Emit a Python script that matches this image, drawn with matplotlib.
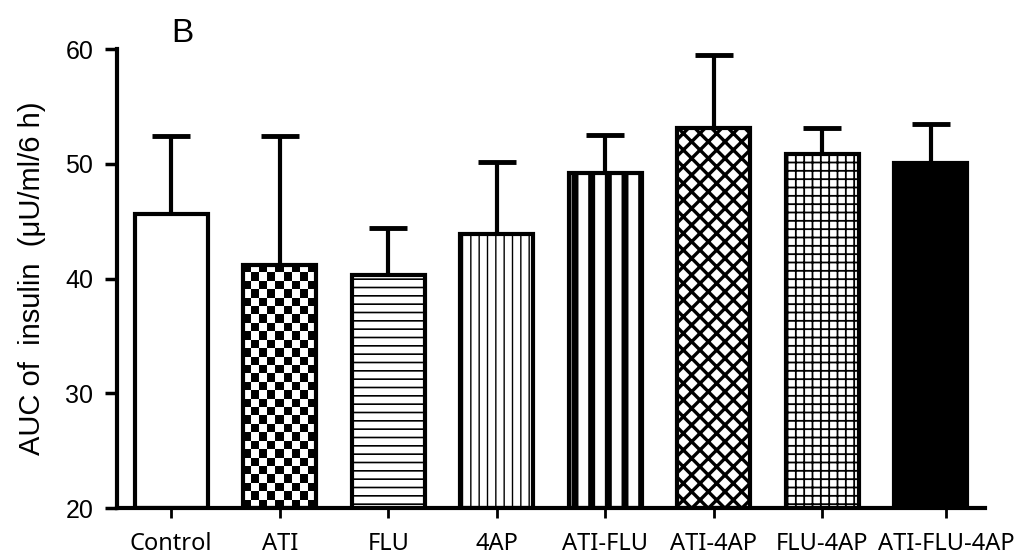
import numpy as np
import matplotlib
matplotlib.use('Agg')
import matplotlib.pyplot as plt

groups = ['Control', 'ATI', 'FLU', '4AP', 'ATI-FLU', 'ATI-4AP', 'FLU-4AP', 'ATI-FLU-4AP']
auc_mean = [45.6, 41.2, 40.3, 43.9, 49.2, 53.1, 50.9, 50.1]
auc_sem = [6.8, 11.2, 4.1, 6.3, 3.3, 6.4, 2.2, 3.4]

# hatch, hatch line width for each bar ('check' is drawn separately)
hatches = ['', 'check', '--', '||', '|', 'xx', '++', '']
hatch_lw = [1, 1, 1.2, 1.0, 5.0, 2.4, 1.3, 1]
faces = ['white', 'none'] + ['white'] * 5 + ['black']

plt.rcParams['font.family'] = ['Liberation Sans', 'DejaVu Sans']

fig = plt.figure(figsize=(10.2, 5.59), dpi=100)
ax = fig.add_axes([0.1147, 0.091, 0.851, 0.821])

x = np.arange(len(groups))
bars = []
for i in range(len(groups)):
    plt.rcParams['hatch.linewidth'] = hatch_lw[i]
    h = hatches[i] if hatches[i] != 'check' else ''
    b = ax.bar(x[i], auc_mean[i] - 20, bottom=20, width=0.67, color=faces[i],
               edgecolor='black', linewidth=3, hatch=h, zorder=2)[0]
    if hasattr(b, 'set_hatch_linewidth'):
        b.set_hatch_linewidth(hatch_lw[i])
    bars.append(b)

ax.errorbar(x, auc_mean, yerr=[np.zeros(len(x)), auc_sem], fmt='none',
            ecolor='black', elinewidth=3, capsize=14, capthick=3.5, zorder=1)

ax.set_xlim(-0.5, 7.5)
ax.set_ylim(20, 60)
ax.set_yticks([20, 30, 40, 50, 60])

# checkerboard fill for ATI
fig.canvas.draw()
cb = bars[1]
x0, x1 = cb.get_x(), cb.get_x() + cb.get_width()
y0, y1 = cb.get_y(), cb.get_y() + cb.get_height()
p0 = ax.transData.transform((x0, y0))
p1 = ax.transData.transform((x1, y1))
sq = 8.3
nc = int(round((p1[0] - p0[0]) / sq))
nr = int(round((p1[1] - p0[1]) / sq))
board = (np.add.outer(np.arange(nr), np.arange(nc)) % 2).astype(float)
img = ax.imshow(board, cmap='gray', extent=(x0, x1, y0, y1), aspect='auto',
                interpolation='nearest', zorder=1.9, origin='lower')
img.set_clip_path(cb)
ax.set_xlim(-0.5, 7.5)
ax.set_ylim(20, 60)

for s in ['top', 'right']:
    ax.spines[s].set_visible(False)
for s in ['left', 'bottom']:
    ax.spines[s].set_linewidth(3)

# last label is nudged right in the original so it does not collide
tick_pos = x.astype(float)
tick_pos[-1] += 0.14
ax.set_xticks(tick_pos)
ax.set_xticklabels(groups, fontsize=17, family=['Noto Sans', 'DejaVu Sans'])
ax.tick_params(axis='y', labelsize=18, length=9, width=2.5, pad=8)
ax.tick_params(axis='x', length=7, width=2, pad=10)

ax.set_ylabel('AUC of  insulin  (\u03bcU/ml/6 h)', fontsize=21, labelpad=14)

fig.text(0.179, 0.925, 'B', fontsize=24, ha='center', va='baseline')

fig.savefig('out.png', dpi=100)
